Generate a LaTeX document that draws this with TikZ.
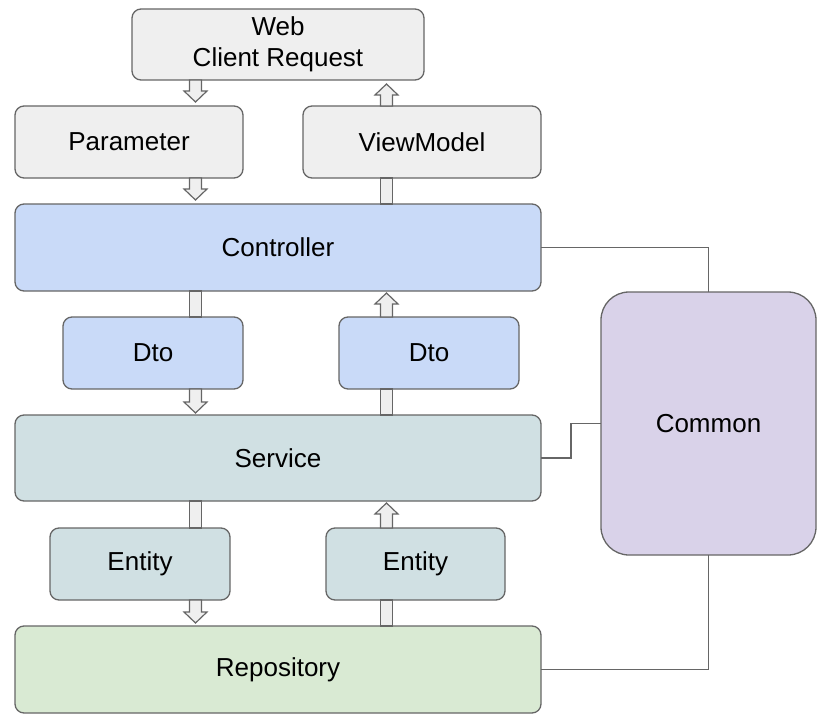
\documentclass[tikz,border=0pt]{standalone}
\usepackage{fontspec}
\setmainfont{Liberation Sans}
\usetikzlibrary{calc}
\definecolor{strk}{HTML}{666666}
\definecolor{cgray}{HTML}{EFEFEF}
\definecolor{cblue}{HTML}{C9DAF8}
\definecolor{cteal}{HTML}{D0E0E3}
\definecolor{cgreen}{HTML}{D9EAD3}
\definecolor{cpurp}{HTML}{D9D2E9}
\newcommand\arrdown[2]{\filldraw[blk] let \p1=(#1), \p2=(#2) in (\x1-6pt,\y1) -- (\x1-6pt,\y2+11pt) -- (\x1-11.5pt,\y2+11pt) -- (\x1,\y2) -- (\x1+11.5pt,\y2+11pt) -- (\x1+6pt,\y2+11pt) -- (\x1+6pt,\y1) -- cycle;}
\newcommand\arrup[2]{\filldraw[blk] let \p1=(#1), \p2=(#2) in (\x1-6pt,\y1) -- (\x1-6pt,\y2-11pt) -- (\x1-11.5pt,\y2-11pt) -- (\x1,\y2) -- (\x1+11.5pt,\y2-11pt) -- (\x1+6pt,\y2-11pt) -- (\x1+6pt,\y1) -- cycle;}
\newcommand\shaft[2]{\filldraw[blk] let \p1=(#1), \p2=(#2) in (\x1-6pt,\y1) rectangle (\x1+6pt,\y2);}
\tikzset{
  box/.style={draw=strk, line width=1.3pt, rounded corners=9pt, inner sep=0pt, outer sep=0pt,
    font=\fontsize{26}{31}\selectfont, align=center},
  blk/.style={draw=strk, fill=cgray, line width=1.2pt, line join=miter},
  conn/.style={draw=strk, line width=1.3pt},
}
\begin{document}
\begin{tikzpicture}[x=1pt,y=-1pt]
\useasboundingbox (0,0) rectangle (831,725);
\node[box, fill=cgray, minimum width=292pt, minimum height=71pt] (web) at (278,44.5) {Web\\Client Request};
\node[box, fill=cgray, minimum width=228pt, minimum height=72pt] (param) at (129,142) {Parameter};
\node[box, fill=cgray, minimum width=238pt, minimum height=72pt] (vm) at (422,142) {ViewModel};
\node[box, fill=cblue, minimum width=526pt, minimum height=87pt] (ctrl) at (278,247.5) {Controller};
\node[box, fill=cblue, minimum width=180pt, minimum height=72pt] (dtoa) at (153,353) {Dto};
\node[box, fill=cblue, minimum width=180pt, minimum height=72pt] (dtob) at (429,353) {Dto};
\node[box, fill=cteal, minimum width=526pt, minimum height=86pt] (svc) at (278,458) {Service};
\node[box, fill=cteal, minimum width=180pt, minimum height=72pt] (enta) at (140,564) {Entity};
\node[box, fill=cteal, minimum width=179pt, minimum height=72pt] (entb) at (415.5,564) {Entity};
\node[box, fill=cgreen, minimum width=526pt, minimum height=87pt] (repo) at (278,669.5) {Repository};
\node[box, fill=cpurp, rounded corners=28pt, minimum width=215pt, minimum height=263pt] (common) at (708.5,423.5) {Common};
% vertical lanes
\coordinate (L) at (195.5,0);
\coordinate (R) at (386.5,0);
% top section
\coordinate (t1) at ($(L |- param.north)+(0,-4)$);
\arrdown{L |- web.south}{t1}
\coordinate (t2) at ($(L |- ctrl.north)+(0,-4)$);
\arrdown{L |- param.south}{t2}
\coordinate (t3) at ($(R |- web.south)+(0,4)$);
\arrup{R |- vm.north}{t3}
\shaft{R |- ctrl.north}{R |- vm.south}
% dto section
\coordinate (t4) at ($(L |- svc.north)+(0,-2)$);
\shaft{L |- ctrl.south}{L |- dtoa.north}
\arrdown{L |- dtoa.south}{t4}
\coordinate (t5) at ($(R |- ctrl.south)+(0,2)$);
\shaft{R |- svc.north}{R |- dtob.south}
\arrup{R |- dtob.north}{t5}
% entity section
\coordinate (t6) at ($(L |- repo.north)+(0,-3)$);
\shaft{L |- svc.south}{L |- enta.north}
\arrdown{L |- enta.south}{t6}
\coordinate (t7) at ($(R |- svc.south)+(0,2)$);
\shaft{R |- repo.north}{R |- entb.south}
\arrup{R |- entb.north}{t7}
% connectors to Common
\coordinate (m) at ($(svc.east)!0.5!(common.west)$);
\draw[conn] (ctrl.east) -| (common.north);
\draw[conn] (svc.east) -| (m) |- (common.west);
\draw[conn] (repo.east) -| (common.south);
\end{tikzpicture}
\end{document}
